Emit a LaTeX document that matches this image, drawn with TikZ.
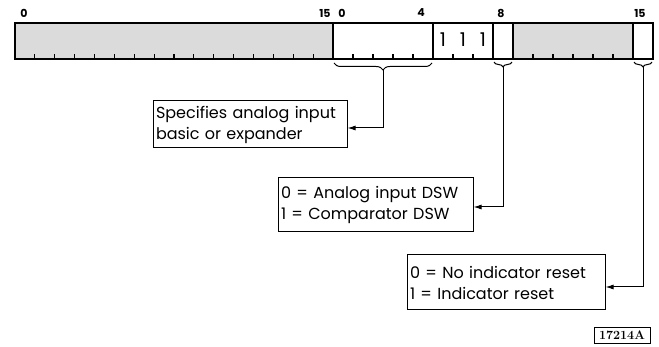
\documentclass[tikz,border=0pt]{standalone}
\usepackage{fontspec}
\newfontfamily\boxfont{Poppins}
\usetikzlibrary{arrows.meta,decorations.pathreplacing,calc}
\begin{document}
\begin{tikzpicture}[x=1pt,y=-1pt,
  reg/.style={line width=1.1pt},
  shade/.style={fill=black!14},
  tick/.style={line width=1.1pt},
  bitlbl/.style={font=\boxfont\bfseries\fontsize{11}{12}\selectfont, inner sep=0pt},
  ones/.style={font=\boxfont\fontsize{19}{20}\selectfont, inner sep=0pt},
  desc/.style={draw, line width=1pt, align=left, font=\boxfont\fontsize{16}{21}\selectfont, inner xsep=3pt, inner ysep=3pt},
  conn/.style={line width=1pt, -{Latex[length=8pt,width=5pt]}},
  br/.style={line width=1pt, decorate, decoration={brace,mirror,amplitude=7pt}},
  brs/.style={line width=1pt, decorate, decoration={brace,mirror,amplitude=5pt}}]
\useasboundingbox (0,0) rectangle (659,347);
% shading
\fill[shade] (15,23) rectangle (333,59);
\fill[shade] (513,23) rectangle (633,59);
% register outline and fields
\draw[reg] (15,23) rectangle (653,59);
\foreach \x in {333,433,493,513,633} \draw[reg] (\x,23) -- (\x,59);
% ticks
\foreach \i in {1,...,15} \draw[tick] ({15+\i*19.875},59) -- ++(0,-5);
\foreach \x in {353,373,393,413,453,473,533,553,573,593,613} \draw[tick] (\x,59) -- ++(0,-5);
% bit labels
\node[bitlbl] (l0a) at (24,13) {0};
\node[bitlbl] (l15a) at (325,13) {15};
\node[bitlbl] (l0b) at (342,13) {0};
\node[bitlbl] (l4b) at (421,13) {4};
\node[bitlbl] (l8b) at (501,13) {8};
\node[bitlbl] (l15b) at (640,13) {15};
% fixed ones
\node[ones] (o5) at (443,40) {1};
\node[ones] (o6) at (463,40) {1};
\node[ones] (o7) at (483,40) {1};
% braces
\draw[br] (334,63) -- (432,63);
\coordinate (t1) at (383,70);
\draw[brs] (494,62) -- (512,62);
\coordinate (t2) at (503,67);
\draw[brs] (634,62) -- (652,62);
\coordinate (t3) at (643,67);
% description boxes
\node[desc, text width=188pt, minimum height=47pt] (box1) at (250,124.5) {Specifies analog input\\basic or expander};
\node[desc, text width=189pt, minimum height=54pt] (box2) at (375.5,205) {0 = Analog input DSW\\1 = Comparator DSW};
\node[desc, text width=192pt, minimum height=55pt] (box3) at (506,282.5) {0 = No indicator reset\\1 = Indicator reset};
% connectors
\draw[conn] (t1) |- ([yshift=-3.5pt]box1.east);
\draw[conn] (t2) |- ([yshift=-2pt]box2.east);
\draw[conn] (t3) |- ([yshift=-4.5pt]box3.east);
% figure number
\node[draw, line width=0.8pt, font=\rmfamily\bfseries\fontsize{12.5}{13}\selectfont, minimum width=56pt, minimum height=16pt, inner sep=1pt] (fig) at (622,335) {17214A\hspace{6pt}};
\end{tikzpicture}
\end{document}
